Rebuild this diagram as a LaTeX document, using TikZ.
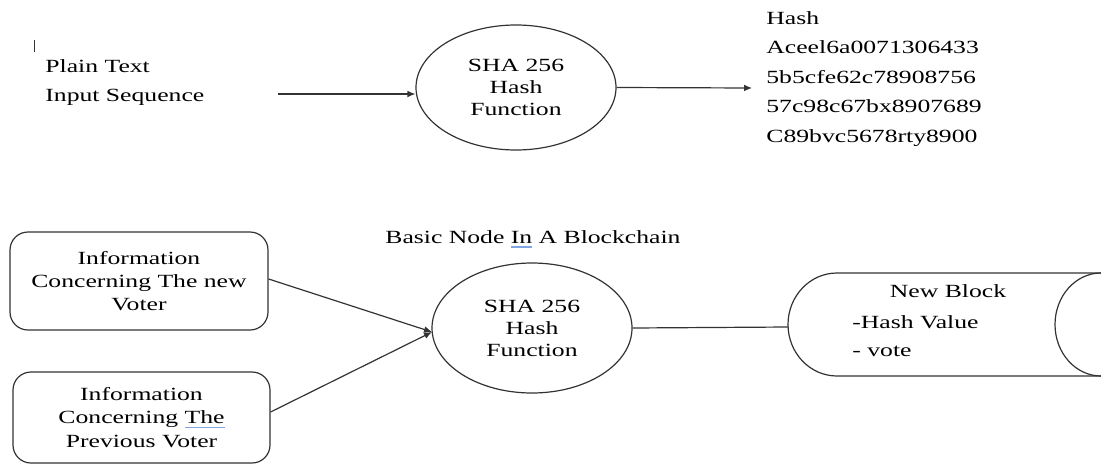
\documentclass[tikz,border=0pt]{standalone}
\usepackage{fontspec}
\setmainfont[FakeStretch=1.38]{Liberation Serif}
\usepackage{xcolor}
\definecolor{spellblue}{HTML}{7FA6E0}
\definecolor{linegray}{rgb}{0.2,0.2,0.2}
\usepackage{tikz}
\usetikzlibrary{shapes,arrows.meta}
\newcommand{\spellmark}[1]{\setbox0\hbox{#1}\rlap{\color{spellblue}\rule[-2.2pt]{\wd0}{0.6pt}}\box0\relax}
\tikzstyle{hashfn}=[ellipse, draw=linegray, line width=0.6pt, inner sep=0pt, minimum width=100pt,
        align=center, font=\rmfamily\fontsize{9.3}{11}\selectfont]
\tikzstyle{infobox}=[rectangle, draw=linegray, line width=0.6pt, rounded corners=9pt, inner sep=0pt,
        align=center, font=\rmfamily\fontsize{9.3}{11.6}\selectfont]
\tikzstyle{plaintext}=[inner sep=0pt, anchor=west, align=left]
\tikzstyle{flowLine}=[line width=0.6pt, linegray, -{Latex[length=4pt,width=3.4pt]}]
\tikzstyle{joinLine}=[line width=0.6pt, linegray]

\begin{document}
\begin{tikzpicture}[x=0.5pt, y=-0.5pt, font=\rmfamily\fontsize{9.3}{14.5}\selectfont]
\useasboundingbox (0,0) rectangle (1101,466);
\clip (0,0) rectangle (1101,466);

% top row: input -> hash function -> hash
\draw[linegray, line width=0.5pt] (34,40) -- (34,52);
\node (plainIn) [plaintext] at (45,82.5) {Plain Text\\Input Sequence};
\coordinate (inTail) at (278,94);
\node (shaTop) [hashfn, minimum height=62.5pt] at (516,87.5) {SHA 256\\Hash\\Function};
\coordinate (hashTip) at (752,88);
\node (hashOut) [plaintext, font=\rmfamily\fontsize{9.3}{14.75}\selectfont] at (766,79)
  {Hash\\Aceel6a0071306433\\5b5cfe62c78908756\\57c98c67bx8907689\\C89bvc5678rty8900};

\draw[flowLine] (inTail) -- (shaTop.west |- inTail);
\draw[flowLine] (shaTop.east) -- (hashTip);

% bottom row: basic node
\node (nodeTitle) [inner sep=0pt] at (533,239) {Basic Node \spellmark{In} A Blockchain};
\node (newVoter) [infobox, minimum width=129pt, minimum height=49pt] at (139,281)
  {Information\\Concerning The new\\Voter};
\node (prevVoter) [infobox, minimum width=128.5pt, minimum height=45.5pt] at (141.5,417.5)
  {Information\\Concerning \spellmark{The}\\Previous Voter};
\node (shaBot) [hashfn, minimum height=65pt] at (532,328) {SHA 256\\Hash\\Function};
\coordinate (shaIn) at (432,332);
\coordinate (blockW) at (788,327);

% block drum, runs off the right edge
\draw[line width=0.6pt, linegray] (1101,273) -- (837,273)
  arc[start angle=270, end angle=90, x radius=49, y radius=51.5] -- (1101,376);
\draw[line width=0.6pt, linegray] (1101,273)
  arc[start angle=270, end angle=90, x radius=46, y radius=51.5];
\node (blockTitle) [inner sep=0pt] at (948,291) {New Block};
\node (blockItems) [plaintext, font=\rmfamily\fontsize{9.3}{14}\selectfont] at (852,336) {-Hash Value\\- vote};

\draw[flowLine] (newVoter.east |- 0,279) -- (shaIn);
\draw[flowLine] (prevVoter.east |- 0,412) -- (shaIn);
\draw[joinLine] (shaBot.east) -- (blockW);

\end{tikzpicture}
\end{document}
